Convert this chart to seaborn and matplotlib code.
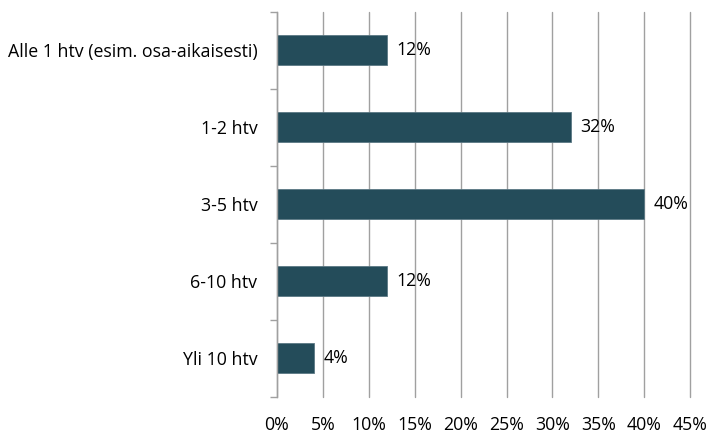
import numpy as np
import pandas as pd
import seaborn as sns
import matplotlib.pyplot as plt
from matplotlib.ticker import FixedLocator

CATEGORIES = ['Alle 1 htv (esim. osa-aikaisesti)', '1-2 htv', '3-5 htv', '6-10 htv', 'Yli 10 htv']
VALUES = [12, 32, 40, 12, 4]
BAR_COLOR = '#244c5a'
GRID_COLOR = '#a0a0a0'


def main():
    df = pd.DataFrame({'category': CATEGORIES, 'value': VALUES})

    sns.set_style('white')
    plt.rcParams['font.family'] = ['Open Sans', 'DejaVu Sans']
    plt.rcParams['text.color'] = 'black'
    plt.rcParams['xtick.color'] = 'black'
    plt.rcParams['ytick.color'] = 'black'

    fig = plt.figure(figsize=(7.08, 4.34), dpi=100)
    ax = fig.add_axes([0.391, 0.0864, 0.584, 0.887])

    sns.barplot(data=df, x='value', y='category', order=CATEGORIES, color=BAR_COLOR,
                width=0.4, orient='h', ax=ax, saturation=1,
                edgecolor='#5b7884', linewidth=0.6)

    fs = 12.8
    ax.set_xlim(0, 45)
    ax.set_ylim(len(CATEGORIES) - 0.5, -0.5)
    ax.set_xticks(range(0, 50, 5))
    ax.set_xticklabels([f'{t}%' for t in range(0, 50, 5)], fontsize=fs)
    ax.tick_params(axis='x', length=0, pad=14)
    ax.tick_params(axis='y', which='major', length=0, pad=14, labelsize=fs)
    ax.yaxis.set_minor_locator(FixedLocator(np.arange(-0.5, len(CATEGORIES), 1)))
    ax.tick_params(axis='y', which='minor', left=True, length=5, color=GRID_COLOR, width=1)
    ax.set(xlabel='', ylabel='')

    ax.grid(axis='x', color=GRID_COLOR, linewidth=1)
    for gl in ax.get_xgridlines():
        gl.set_clip_on(False)
    ax.set_axisbelow(True)
    for side in ['top', 'right', 'bottom']:
        ax.spines[side].set_visible(False)
    ax.spines['left'].set_color(GRID_COLOR)
    ax.spines['left'].set_linewidth(1)

    ax.bar_label(ax.containers[0], labels=[f'{v}%' for v in VALUES],
                 padding=7, fontsize=fs)

    fig.savefig('out.png', dpi=100)


if __name__ == '__main__':
    main()
